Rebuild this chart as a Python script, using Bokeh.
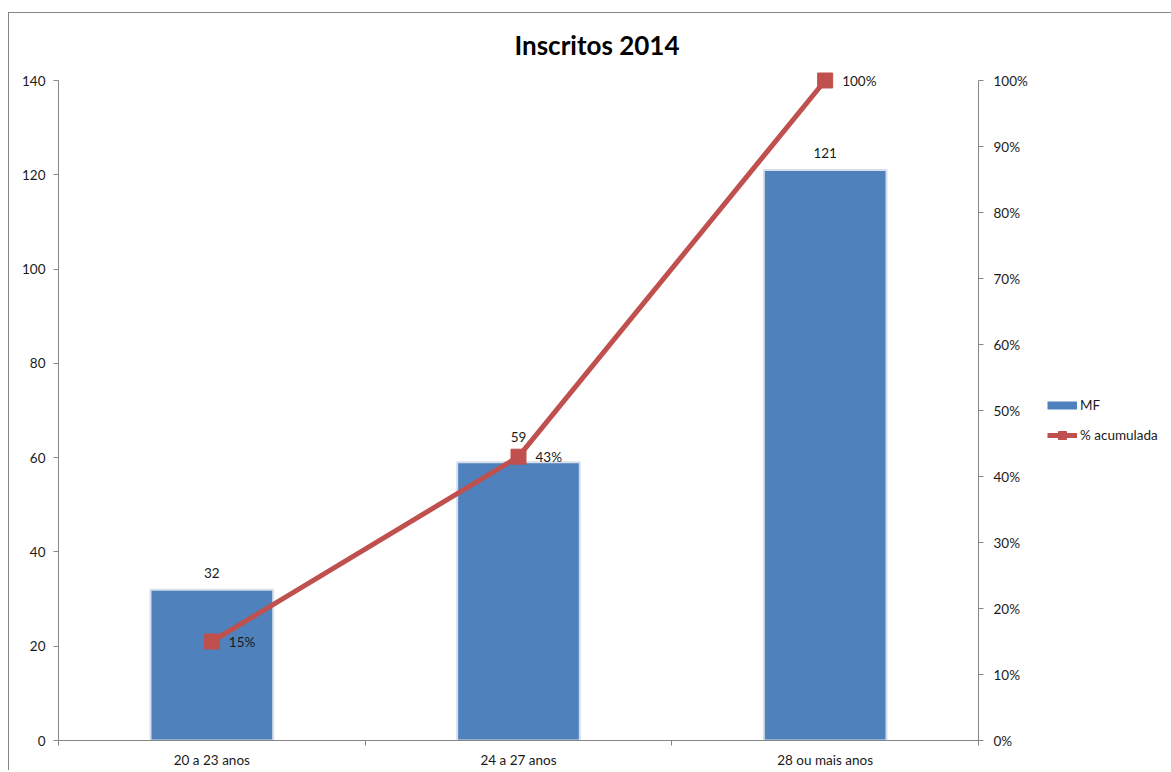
from bokeh.plotting import figure
from bokeh.layouts import row
from bokeh.models import (Range1d, LinearAxis, FixedTicker, NumeralTickFormatter,
                          Legend, LegendItem, Label)
from bokeh.core.properties import value
from bokeh.embed import file_html
from bokeh.resources import INLINE

categories = ["20 a 23 anos", "24 a 27 anos", "28 ou mais anos"]
mf = [32, 59, 121]
pct = [0.15, 0.43, 1.00]
pct_labels = ["15%", "43%", "100%"]
mf_labels = ["32", "59", "121"]
left_ticks = [0, 20, 40, 60, 80, 100, 120, 140]
right_ticks = [0.0, 0.1, 0.2, 0.3, 0.4, 0.5, 0.6, 0.7, 0.8, 0.9, 1.0]

FONT = "Lato"
FS = "13.5px"
AX = "#868686"
BLUE = "#4F81BD"
RED = "#C0504D"
label_dy = [-17, -25, -17]

xs = [i + 0.5 for i in range(len(categories))]
bounds = [float(i) for i in range(len(categories) + 1)]

H = 757
W1 = 1029
W2 = 1162 - W1

# frame spans higher than the axis maximum so the title and top labels fit inside it
Y_MAX = 140
TOP_FACTOR = 720 / 660
p = figure(width=W1, height=H, output_backend="svg", toolbar_location=None,
           x_range=Range1d(0, len(categories)), y_range=Range1d(0, Y_MAX * TOP_FACTOR),
           x_axis_type=None, y_axis_type=None,
           min_border_left=49, min_border_right=60, min_border_top=7, min_border_bottom=30)
p.extra_y_ranges = {"pct": Range1d(0, 1 * TOP_FACTOR)}
p.xgrid.visible = False
p.ygrid.visible = False
p.outline_line_color = None
p.background_fill_color = "white"
p.border_fill_color = "white"


def style_axis(ax):
    ax.axis_line_color = AX
    ax.major_tick_line_color = AX
    ax.minor_tick_line_color = AX
    ax.major_tick_out = 5
    ax.major_tick_in = 0
    ax.minor_tick_in = 0
    ax.minor_tick_out = 0
    ax.major_label_text_font = FONT
    ax.major_label_text_font_size = FS
    ax.major_label_text_color = "#1a1a1a"


yl = LinearAxis(ticker=FixedTicker(ticks=left_ticks, minor_ticks=[]), bounds=(0, Y_MAX))
style_axis(yl)
yl.major_label_standoff = 8
p.add_layout(yl, "left")

yr = LinearAxis(y_range_name="pct", ticker=FixedTicker(ticks=right_ticks, minor_ticks=[]),
                formatter=NumeralTickFormatter(format="0%"), bounds=(0, 1))
style_axis(yr)
yr.major_label_standoff = 10
p.add_layout(yr, "right")

xa = LinearAxis(ticker=FixedTicker(ticks=xs, minor_ticks=bounds))
style_axis(xa)
xa.major_tick_out = 0
xa.minor_tick_out = 5
xa.major_label_standoff = 6
xa.major_label_overrides = {x: c for x, c in zip(xs, categories)}
p.add_layout(xa, "below")

p.vbar(x=xs, top=mf, width=0.4, fill_color=BLUE, line_color="#d5dfec", line_width=2)
p.text(x=xs, y=mf, text=mf_labels, text_align="center", text_baseline="middle",
       y_offset=label_dy, text_font=value(FONT), text_font_size=FS, text_color="#1a1a1a")

p.line(x=xs, y=pct, y_range_name="pct", line_color=RED, line_width=5)
p.scatter(x=xs, y=pct, y_range_name="pct", marker="square", size=15,
          fill_color=RED, line_color=RED)
p.text(x=xs, y=pct, y_range_name="pct", text=pct_labels, text_align="left",
       text_baseline="middle", x_offset=17, text_font=value(FONT), text_font_size=FS,
       text_color="#1a1a1a")

title = Label(x=538.5, y=696, x_units="screen", y_units="screen", text="Inscritos 2014",
              text_align="center", text_baseline="middle", text_font=FONT,
              text_font_size="26px", text_font_style="bold", text_color="#000000")
p.add_layout(title)

# legend panel: a frame-only figure holding hidden proxies of the two series
q = figure(width=W2, height=H, output_backend="svg", toolbar_location=None,
           x_range=Range1d(0, 1), y_range=Range1d(0, 1), x_axis_type=None, y_axis_type=None,
           min_border_left=0, min_border_right=0, min_border_top=0, min_border_bottom=0)
q.xgrid.visible = False
q.ygrid.visible = False
q.outline_line_color = None
q.border_fill_color = "white"
mf_proxy = q.line(x=xs, y=mf, line_color=BLUE, line_width=8, visible=False)
pl_proxy = q.line(x=xs, y=pct, line_color=RED, line_width=5, visible=False)
ps_proxy = q.scatter(x=xs, y=pct, marker="square", size=15, fill_color=RED,
                     line_color=RED, visible=False)

leg = Legend(items=[LegendItem(label="MF", renderers=[mf_proxy]),
                    LegendItem(label="% acumulada", renderers=[pl_proxy, ps_proxy])],
             location=(9, 295), glyph_width=30, glyph_height=20, label_height=20,
             spacing=10, padding=0, margin=0, label_standoff=3,
             border_line_color=None, background_fill_alpha=0,
             label_text_font=FONT, label_text_font_size=FS, label_text_color="#1a1a1a")
q.add_layout(leg)

layout = row(p, q, spacing=0,
             styles={"margin-top": "12px", "margin-left": "8px",
                     "border-top": "1px solid #868686", "border-left": "1px solid #868686"})

open("out.html", "w").write(file_html(layout, INLINE))
